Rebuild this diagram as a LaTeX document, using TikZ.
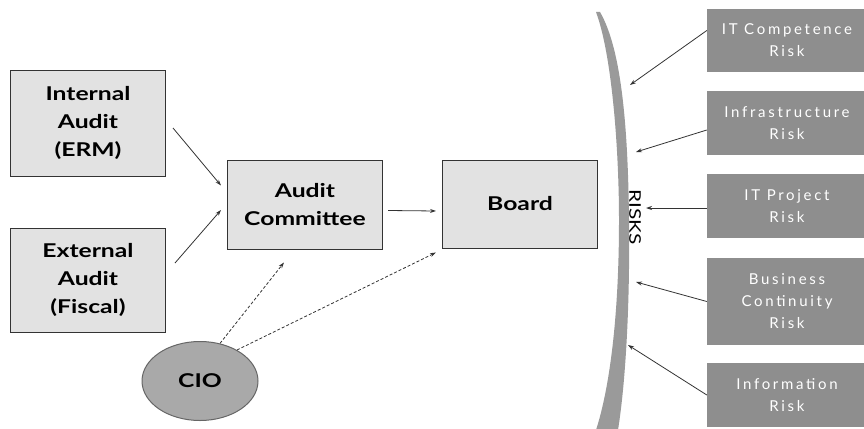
\documentclass[tikz,border=0pt]{standalone}
\usepackage{fontspec}
\setmainfont{Lato}[FakeStretch=1.3]
\newfontfamily\riskfont{Lato}[LetterSpace=18]
\usetikzlibrary{arrows.meta,shapes.geometric,calc}
\definecolor{boxgray}{HTML}{E2E2E2}
\definecolor{riskgray}{HTML}{8E8E8E}
\definecolor{bandgray}{HTML}{9A9A9A}
\definecolor{ciogray}{HTML}{A9A9A9}
\begin{document}
\begin{tikzpicture}[x=1pt,y=-1pt,
  auditbox/.style={draw=black!80, line width=1pt, fill=boxgray, minimum width=155pt,
    align=center, font=\fontsize{19}{28}\selectfont\bfseries},
  riskbox/.style={fill=riskgray, minimum width=160pt, align=center, text=white,
    font=\fontsize{15}{22}\selectfont\riskfont},
  link/.style={-{Stealth[length=6pt,width=4pt]}, line width=0.8pt, black!80},
  dotlink/.style={link, densely dashed}]
  \useasboundingbox (0,0) rectangle (864,428);
  % Audit side
  \node[auditbox, minimum height=106pt] (ia) at (88,123) {Internal\\Audit\\(ERM)};
  \node[auditbox, minimum height=104pt] (ea) at (88,280) {External\\Audit\\(Fiscal)};
  \node[auditbox, minimum height=89pt] (ac) at (305,204.5) {Audit\\Committee};
  \node[auditbox, minimum height=88pt] (bd) at (520,204) {Board};
  \node[ellipse, draw=black!60, line width=1pt, fill=ciogray, minimum width=116pt,
    minimum height=79pt, font=\fontsize{19}{22}\selectfont\bfseries] (cio) at (200,381) {CIO};
  % Risks band
  \fill[bandgray] (596,12) .. controls (612,55) and (619,150) .. (619,220)
    .. controls (619,320) and (609,390) .. (596,430) -- (618,430)
    .. controls (626,380) and (630,300) .. (629,220)
    .. controls (628,130) and (622,50) .. (600,12) -- cycle;
  \node[rotate=-90, font=\fontsize{16}{18}\selectfont] (rk) at (635,217) {RISKS};
  \coordinate (r1) at (630,85);
  \coordinate (r2) at (636,152);
  \coordinate (r3) at (646,208);
  \coordinate (r4) at (636,282);
  \coordinate (r5) at (628,345);
  % Risk boxes
  \node[riskbox, minimum height=63pt] (itc) at (787,40.5) {IT Competence\\Risk};
  \node[riskbox, minimum height=64pt] (inf) at (787,123) {Infrastructure\\Risk};
  \node[riskbox, minimum height=64pt] (itp) at (787,206) {IT Project\\Risk};
  \node[riskbox, minimum height=87pt] (bcr) at (787,301.5) {Business\\Continuity\\Risk};
  \node[riskbox, minimum height=64pt] (inr) at (787,395) {Information\\Risk};
  % Connectors
  \draw[link] ([xshift=7pt,yshift=-5pt]ia.east) -- ([xshift=-6pt,yshift=19pt]ac.west);
  \draw[link] ([xshift=9pt,yshift=17pt]ea.east) -- ([xshift=-6pt,yshift=-5.5pt]ac.west);
  \draw[link] ([xshift=5pt,yshift=-6pt]ac.east) -- ([xshift=-6pt,yshift=-7pt]bd.west);
  \draw[dotlink] (cio.62) -- ($(ac.south)+(-21,13)$);
  \draw[dotlink] (cio.40) -- ([xshift=-6pt,yshift=-4pt]bd.south west);
  \draw[link] ([yshift=10pt]itc.west) -- (r1);
  \draw[link] ([yshift=-7pt]inf.west) -- (r2);
  \draw[link] ([yshift=-2pt]itp.west) -- (r3);
  \draw[link] (bcr.west) -- (r4);
  \draw[link] (inr.west) -- (r5);
\end{tikzpicture}
\end{document}
